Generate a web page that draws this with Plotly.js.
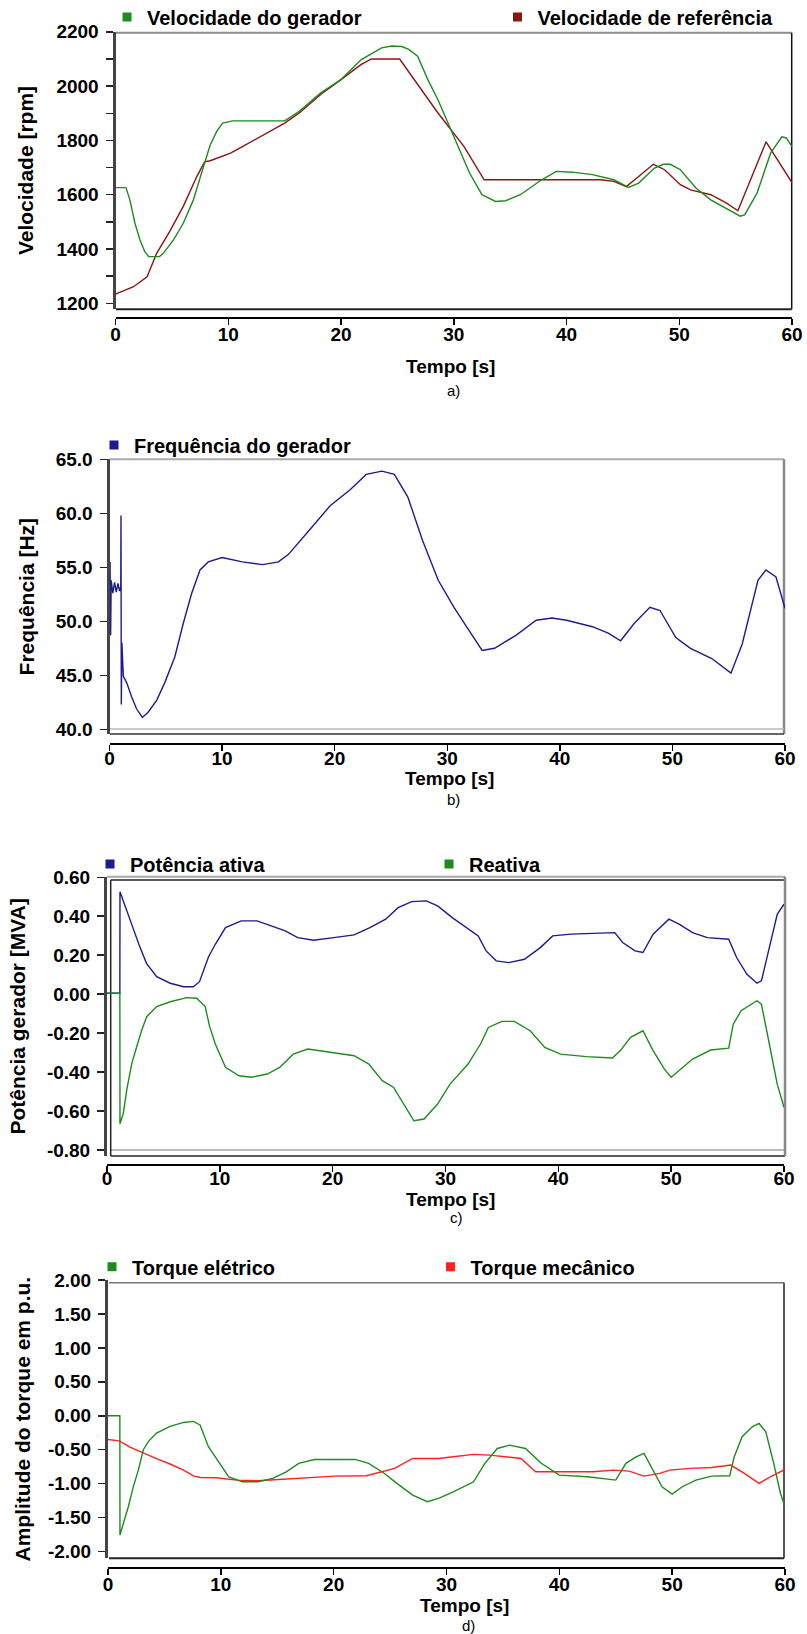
<!DOCTYPE html>
<html><head><meta charset="utf-8">
<script src="https://cdn.plot.ly/plotly-3.0.1.min.js"></script>
<style>html,body{margin:0;padding:0;background:#fff}</style>
</head><body><div id="chart" style="width:807px;height:1634px"></div>
<script>
// ---------- DATA ----------
const timeTicks = [0, 10, 20, 30, 40, 50, 60];
const timeTitle = 'Tempo [s]';
const captions = ['a)', 'b)', 'c)', 'd)'];

// a) Velocidade
const tGerador = [0, 0.93, 1.28, 1.73, 2.17, 2.6, 2.95, 3.9, 4.24, 5.13, 6.0, 6.9, 7.8, 8.4, 9.0, 9.5, 10.4, 12, 15, 16.3, 18.2, 20, 21.8, 23.6, 24.5, 25.4, 26.0, 26.8, 27.7, 28.6, 29.6, 30.5, 31.4, 32.5, 33.7, 34.6, 35.9, 37.8, 39.1, 40.5, 42.3, 44.2, 45.5, 46.4, 47.8, 48.6, 49.2, 50.1, 51.5, 52.8, 54.2, 55.4, 55.8, 56.9, 58.1, 59.1, 59.5, 60];
const velGerador = [1626, 1626, 1580, 1494, 1433, 1390, 1372, 1372, 1384, 1433, 1494, 1580, 1703, 1783, 1835, 1864, 1872, 1872, 1872, 1907, 1975, 2024, 2098, 2141, 2148, 2146, 2135, 2110, 2024, 1950, 1852, 1766, 1680, 1600, 1575, 1578, 1600, 1655, 1686, 1683, 1674, 1655, 1627, 1643, 1698, 1712, 1712, 1692, 1624, 1581, 1550, 1521, 1526, 1606, 1753, 1813, 1809, 1777];
const tReferencia = [0, 1.6, 2.8, 3.65, 4.8, 6.0, 7.2, 7.9, 8.4, 9.0, 10.2, 11.3, 13.1, 15.0, 16.3, 18.2, 20.0, 21.8, 22.7, 25.2, 28.6, 30.9, 32.7, 43.0, 44.2, 45.3, 46.4, 47.7, 48.7, 50.1, 51.0, 52.8, 54.2, 55.2, 57.7, 60];
const velReferencia = [1234, 1261, 1298, 1384, 1464, 1556, 1666, 1721, 1725, 1735, 1753, 1778, 1821, 1864, 1901, 1969, 2024, 2080, 2100, 2100, 1901, 1778, 1655, 1655, 1649, 1630, 1667, 1712, 1692, 1637, 1618, 1600, 1569, 1541, 1795, 1645];
const speedTicks = [1200, 1400, 1600, 1800, 2000, 2200];

// b) Frequência
const tFreq = [0.05, 0.1, 0.15, 0.3, 0.45, 0.6, 0.75, 0.9, 1.0, 1.02, 1.05, 1.1, 1.23, 1.53, 1.97, 2.4, 2.92, 3.45, 4.2, 4.9, 5.8, 6.55, 7.3, 8.04, 8.77, 10.0, 11.8, 13.6, 15.0, 15.9, 17.8, 19.6, 21.4, 22.8, 24.2, 25.3, 26.5, 27.8, 29.2, 30.6, 31.9, 33.1, 34.2, 36.1, 37.9, 39.3, 40.6, 42.9, 44.3, 45.4, 46.6, 48.0, 48.9, 50.3, 51.6, 53.5, 55.2, 56.2, 57.6, 58.3, 59.2, 60];
const freqGerador = [55.5, 48.7, 53.8, 52.6, 53.6, 52.7, 53.5, 52.8, 53.2, 59.8, 42.3, 48.0, 44.9, 44.3, 43.0, 41.9, 41.1, 41.6, 42.7, 44.3, 46.7, 49.8, 52.6, 54.75, 55.5, 55.9, 55.5, 55.25, 55.5, 56.2, 58.5, 60.7, 62.2, 63.6, 63.9, 63.6, 61.5, 57.5, 53.8, 51.3, 49.2, 47.3, 47.5, 48.7, 50.1, 50.3, 50.1, 49.5, 48.9, 48.2, 49.8, 51.3, 51.0, 48.5, 47.5, 46.55, 45.2, 47.9, 53.8, 54.75, 54.1, 51.2];
const freqTicks = [40, 45, 50, 55, 60, 65];

// c) Potência
const tAtiva = [0, 1.14, 1.15, 2.04, 2.9, 3.5, 4.4, 5.6, 6.8, 7.65, 8.2, 9.0, 9.6, 10.5, 11.9, 13.3, 14.6, 15.8, 16.9, 18.3, 20.1, 21.9, 23.3, 24.7, 25.8, 27.0, 28.3, 29.3, 30.6, 32.0, 32.9, 33.6, 34.5, 35.6, 37.0, 38.4, 39.5, 41.1, 43.0, 45.0, 45.7, 46.8, 47.5, 48.4, 49.8, 50.7, 51.9, 53.2, 55.1, 55.8, 56.7, 57.6, 58.0, 58.7, 59.4, 60];
const potAtiva = [0.005, 0.005, 0.526, 0.381, 0.244, 0.158, 0.09, 0.056, 0.038, 0.038, 0.064, 0.192, 0.256, 0.342, 0.376, 0.376, 0.35, 0.325, 0.29, 0.277, 0.29, 0.304, 0.342, 0.385, 0.444, 0.475, 0.479, 0.453, 0.393, 0.333, 0.299, 0.222, 0.171, 0.162, 0.179, 0.239, 0.299, 0.308, 0.311, 0.316, 0.265, 0.222, 0.214, 0.308, 0.385, 0.359, 0.316, 0.29, 0.282, 0.188, 0.103, 0.056, 0.068, 0.239, 0.41, 0.462];
const tReativa = [0, 1.14, 1.15, 1.45, 1.75, 2.2, 2.63, 3.08, 3.52, 4.4, 5.6, 7.07, 7.95, 8.7, 9.1, 9.6, 10.5, 11.7, 12.8, 14.2, 15.3, 16.5, 17.8, 19.7, 21.9, 23.2, 24.4, 25.4, 26.3, 27.2, 28.1, 29.3, 30.4, 32.0, 33.1, 33.8, 35.0, 36.1, 37.5, 38.8, 40.2, 42.5, 44.8, 45.5, 46.4, 47.5, 48.4, 49.4, 50.0, 50.7, 51.9, 53.5, 55.1, 55.5, 56.2, 57.6, 58.0, 58.7, 59.4, 60];
const potReativa = [0.005, 0.005, -0.666, -0.611, -0.492, -0.355, -0.27, -0.184, -0.116, -0.064, -0.039, -0.018, -0.021, -0.064, -0.167, -0.256, -0.376, -0.419, -0.427, -0.41, -0.376, -0.308, -0.282, -0.299, -0.316, -0.359, -0.444, -0.479, -0.564, -0.65, -0.641, -0.564, -0.462, -0.359, -0.256, -0.171, -0.14, -0.14, -0.188, -0.274, -0.308, -0.321, -0.328, -0.29, -0.222, -0.188, -0.29, -0.385, -0.427, -0.393, -0.333, -0.287, -0.277, -0.154, -0.085, -0.034, -0.051, -0.256, -0.462, -0.581];
const potTicks = [-0.8, -0.6, -0.4, -0.2, 0, 0.2, 0.4, 0.6];
const potTickText = ['-0.80', '-0.60', '-0.40', '-0.20', '0.00', '0.20', '0.40', '0.60'];

// d) Torque
const tEletrico = [0, 1.05, 1.06, 1.36, 1.8, 2.25, 2.69, 3.13, 3.57, 4.3, 5.5, 6.7, 7.56, 8.16, 8.9, 9.6, 10.7, 11.9, 13.3, 14.6, 15.8, 16.9, 18.3, 20.1, 21.9, 23.1, 24.5, 25.6, 27.0, 28.3, 29.3, 30.6, 32.4, 33.4, 34.5, 35.6, 37.0, 38.4, 40.0, 42.5, 45.0, 45.9, 46.8, 47.5, 48.2, 49.1, 50.0, 50.9, 52.1, 53.5, 55.1, 55.5, 56.2, 57.1, 57.7, 58.3, 59.0, 59.6, 60];
const torqueEletrico = [0, 0, -1.755, -1.583, -1.34, -1.04, -0.80, -0.50, -0.38, -0.255, -0.157, -0.098, -0.083, -0.135, -0.455, -0.628, -0.90, -0.972, -0.972, -0.923, -0.825, -0.70, -0.643, -0.643, -0.643, -0.70, -0.85, -0.996, -1.168, -1.266, -1.217, -1.12, -0.972, -0.70, -0.481, -0.432, -0.481, -0.70, -0.874, -0.898, -0.947, -0.70, -0.604, -0.555, -0.775, -1.045, -1.153, -1.045, -0.947, -0.888, -0.883, -0.604, -0.309, -0.162, -0.113, -0.236, -0.70, -1.144, -1.34];
const tMecanico = [0, 1.0, 1.95, 3.13, 4.3, 5.5, 6.7, 7.56, 8.2, 9.6, 11.4, 13.3, 15.5, 17.8, 20.1, 22.9, 24.2, 25.4, 27.0, 29.3, 30.6, 32.4, 33.8, 35.4, 36.6, 37.9, 40.2, 43.0, 44.8, 46.2, 47.5, 48.9, 49.8, 51.6, 53.5, 55.2, 56.4, 57.7, 58.7, 60];
const torqueMecanico = [-0.35, -0.37, -0.46, -0.55, -0.63, -0.71, -0.80, -0.885, -0.908, -0.913, -0.947, -0.957, -0.937, -0.908, -0.888, -0.883, -0.825, -0.775, -0.628, -0.628, -0.604, -0.569, -0.579, -0.604, -0.628, -0.825, -0.825, -0.825, -0.80, -0.815, -0.888, -0.849, -0.80, -0.775, -0.761, -0.726, -0.849, -0.996, -0.898, -0.79];
const torqueTicks = [-2, -1.5, -1, -0.5, 0, 0.5, 1, 1.5, 2];
const torqueTickText = ['-2.00', '-1.50', '-1.00', '-0.50', '0.00', '0.50', '1.00', '1.50', '2.00'];

// ---------- STYLE / LAYOUT ----------
const W = 807, H = 1634;
const fx = p => p / W, fy = p => 1 - p / H;
const FONT = 'Liberation Sans, Arial, sans-serif';
const tickFont = {family: FONT, size: 19, weight: 'bold', color: '#000'};
const xTitleFont = {family: FONT, size: 19, weight: 'bold', color: '#000'};
const yTitleFont = {family: FONT, size: 21, weight: 'bold', color: '#000'};
const legFont = {family: FONT, size: 20, weight: 'bold', color: '#000'};
const capFont = {family: FONT, size: 15, color: '#000'};

const C_GREEN = '#1E8B1E', C_DRED = '#8B1414', C_NAVY = '#1C1C8E', C_RED = '#FF2020';

function xAxis(d0, d1, pos, labelShift) {
  return {domain: [fx(d0), fx(d1)], range: [0, 60], anchor: 'free', position: fy(pos),
    showline: true, linecolor: '#000', linewidth: 2, ticks: 'outside', ticklen: 6, tickwidth: 1.5,
    tickcolor: '#000', tickvals: timeTicks, tickfont: tickFont, ticklabelstandoff: labelShift,
    showgrid: false, zeroline: false, fixedrange: true, automargin: false};
}
function yAxis(xa, top, bottom, range, title, standoff, extra) {
  return Object.assign({anchor: xa, domain: [fy(bottom), fy(top)], range: range,
    showline: true, linecolor: '#444', linewidth: 3, ticks: 'outside', ticklen: 7, tickwidth: 1.5,
    tickcolor: '#222', tickfont: tickFont, ticklabelstandoff: 3, showgrid: false, zeroline: false,
    title: {text: title, font: yTitleFont, standoff: standoff}, fixedrange: true, automargin: false}, extra);
}
function seg(x0, y0, x1, y1, color, width) {
  return {type: 'line', xref: 'paper', yref: 'paper', x0: fx(x0), y0: fy(y0), x1: fx(x1), y1: fy(y1),
    line: {color: color, width: width}, layer: 'below'};
}
function lineTrace(x, y, color, xa, ya) {
  return {type: 'scatter', mode: 'lines', x: x, y: y, xaxis: xa, yaxis: ya, showlegend: false,
    line: {color: color, width: 1.4}, hoverinfo: 'skip'};
}
function legTrace(name, color, xa, ya, lg) {
  return {type: 'scatter', mode: 'markers', x: [null], y: [null], xaxis: xa, yaxis: ya, name: name,
    legend: lg, marker: {symbol: 'square', size: 9, color: color}, hoverinfo: 'skip'};
}
// x = centre of the legend square, y = vertical centre of the entry (pixels)
function legendCfg(x, y) {
  return {x: fx(x - 23), y: fy(y), xanchor: 'left', yanchor: 'middle', orientation: 'h', font: legFont,
    bgcolor: 'rgba(0,0,0,0)', borderwidth: 0, itemwidth: 30,
    itemclick: false, itemdoubleclick: false};
}
function label(text, x, y, font) {
  return {text: text, x: fx(x), y: fy(y), xref: 'paper', yref: 'paper', showarrow: false,
    font: font, xanchor: 'center', yanchor: 'middle', borderpad: 0};
}

const data = [
  lineTrace(tReferencia, velReferencia, C_DRED, 'x', 'y'),
  lineTrace(tGerador, velGerador, C_GREEN, 'x', 'y'),
  legTrace('Velocidade do gerador', C_GREEN, 'x', 'y', 'legend'),
  legTrace('Velocidade de referência', C_DRED, 'x', 'y', 'legend2'),

  lineTrace(tFreq, freqGerador, C_NAVY, 'x2', 'y2'),
  legTrace('Frequência do gerador', C_NAVY, 'x2', 'y2', 'legend3'),

  lineTrace(tAtiva, potAtiva, C_NAVY, 'x3', 'y3'),
  lineTrace(tReativa, potReativa, C_GREEN, 'x3', 'y3'),
  legTrace('Potência ativa', C_NAVY, 'x3', 'y3', 'legend4'),
  legTrace('Reativa', C_GREEN, 'x3', 'y3', 'legend5'),

  lineTrace(tMecanico, torqueMecanico, C_RED, 'x4', 'y4'),
  lineTrace(tEletrico, torqueEletrico, C_GREEN, 'x4', 'y4'),
  legTrace('Torque elétrico', C_GREEN, 'x4', 'y4', 'legend6'),
  legTrace('Torque mecânico', C_RED, 'x4', 'y4', 'legend7')
];

const layout = {
  width: W, height: H, margin: {l: 0, r: 0, t: 0, b: 0, autoexpand: false},
  paper_bgcolor: '#fff', plot_bgcolor: '#fff', hovermode: false,
  xaxis: xAxis(115.5, 792, 318.3, -7),
  yaxis: yAxis('x', 31.7, 309.3, [1177.9, 2200.5], 'Velocidade [rpm]', 18,
    {tickvals: speedTicks, minor: {dtick: 100, tick0: 1200, ticks: 'outside', ticklen: 7, tickcolor: '#222', tickwidth: 1.5}}),
  xaxis2: xAxis(109.5, 785, 744.3, -9),
  yaxis2: yAxis('x2', 459.3, 734, [39.565, 65], 'Frequência [Hz]', 16, {tickvals: freqTicks, tickformat: '.1f'}),
  xaxis3: xAxis(107, 784, 1165, -10),
  yaxis3: yAxis('x3', 876.7, 1156, [-0.831, 0.603], 'Potência gerador [MVA]', 16, {tickvals: potTicks, ticktext: potTickText}),
  xaxis4: xAxis(108, 785, 1567.7, -7),
  yaxis4: yAxis('x4', 1280, 1558.3, [-2.099, 2.0], 'Amplitude do torque em p.u.', 12, {tickvals: torqueTicks, ticktext: torqueTickText}),
  legend: legendCfg(130, 17),
  legend2: legendCfg(520.5, 17),
  legend3: legendCfg(117, 445),
  legend4: legendCfg(113, 864),
  legend5: legendCfg(452, 864),
  legend6: legendCfg(115, 1266.7),
  legend7: legendCfg(453.5, 1266.7),
  shapes: [
    seg(116, 32.7, 791.7, 32.7, '#8c8c8c', 2),
    seg(791.7, 32.7, 791.7, 309.3, '#111', 1.5),
    seg(116, 309.3, 791.7, 309.3, '#222', 2),

    seg(110, 459.3, 784, 459.3, '#aaa', 2),
    seg(784, 459.3, 784, 734, '#888', 2.5),
    seg(110, 729, 784, 729, '#bbb', 1.5),
    seg(110, 734, 784, 734, '#333', 1.5),

    seg(107, 876.7, 785, 876.7, '#aaa', 2),
    seg(110.7, 880, 785, 880, '#222', 1.5),
    seg(110.7, 1150, 785, 1150, '#bbb', 2),
    seg(110.7, 1156, 785, 1156, '#222', 1.5),
    seg(110.7, 880, 110.7, 1156, '#222', 1.5),
    seg(785, 876.7, 785, 1156, '#888', 2.5),

    seg(109, 1282.7, 784, 1282.7, '#777', 1.5),
    seg(784, 1282.7, 784, 1558.3, '#555', 2),
    seg(109, 1558.3, 784, 1558.3, '#222', 2)
  ],
  annotations: [
    label(timeTitle, 451, 366, xTitleFont),
    label(timeTitle, 449, 779, xTitleFont),
    label(timeTitle, 451, 1199, xTitleFont),
    label(timeTitle, 464.7, 1605, xTitleFont),
    label(captions[0], 453.7, 391, capFont),
    label(captions[1], 453.7, 799, capFont),
    label(captions[2], 456, 1217, capFont),
    label(captions[3], 468.8, 1625, capFont)
  ]
};

Plotly.newPlot('chart', data, layout, {staticPlot: true, displayModeBar: false});
</script></body></html>
